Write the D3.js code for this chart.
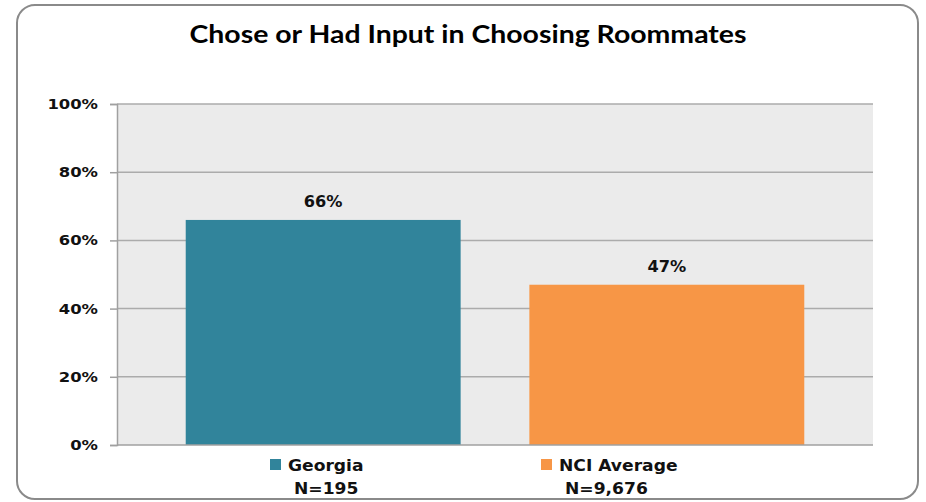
<!DOCTYPE html>
<meta charset="utf-8">
<script src="https://d3js.org/d3.v7.min.js"></script>
<style>
  body { margin: 0; background: #fff; }
</style>
<div id="chart"></div>
<script>
// data
const series = ["Georgia", "NCI Average"];
const values = [66, 47];
const sampleSizes = ["N=195", "N=9,676"];
const colors = ["#31849b", "#f79646"];
const yTicks = [0, 20, 40, 60, 80, 100];

const W = 926, H = 502;
const margin = {top: 104, right: 53, bottom: 57, left: 117};
const width = W - margin.left - margin.right,
      height = H - margin.top - margin.bottom;

// widen text a bit, the original was stretched sideways
function stretch(sel, k) {
  sel.each(function() {
    const len = this.getComputedTextLength();
    d3.select(this).attr("textLength", len * k).attr("lengthAdjust", "spacingAndGlyphs");
  });
}

const svg = d3.select("#chart").append("svg")
    .attr("width", W).attr("height", H);

// outer rounded frame
svg.append("rect")
    .attr("x", 17).attr("y", 5)
    .attr("width", 901).attr("height", 494)
    .attr("rx", 18)
    .attr("fill", "#fff")
    .attr("stroke", "#8a8a8a")
    .attr("stroke-width", 2);

svg.append("text")
    .attr("x", 468).attr("y", 43)
    .attr("text-anchor", "middle")
    .style("font-family", "Lato, sans-serif")
    .style("font-weight", "bold")
    .style("font-size", "24px")
    .attr("fill", "#000")
    .attr("textLength", 557)
    .attr("lengthAdjust", "spacingAndGlyphs")
    .text("Chose or Had Input in Choosing Roommates");

const g = svg.append("g").attr("transform", `translate(${margin.left},${margin.top})`);

const x = d3.scaleBand().domain(series).range([0, width]).paddingInner(0.2).paddingOuter(0.2);
const y = d3.scaleLinear().domain([0, 100]).range([height, 0]);

g.append("rect").attr("width", width).attr("height", height).attr("fill", "#ebebeb");

// gridlines
g.append("g")
  .selectAll("line").data(yTicks.filter(d => d > 0)).join("line")
    .attr("x1", 0).attr("x2", width)
    .attr("y1", d => y(d)).attr("y2", d => y(d))
    .attr("stroke", "#ababab").attr("stroke-width", 1.5);

// y axis
const yAxis = g.append("g")
    .call(d3.axisLeft(y).tickValues(yTicks).tickFormat(d => d + "%").tickSize(7).tickPadding(12));
yAxis.select(".domain").attr("stroke", "#a0a0a0").attr("stroke-width", 1.5);
yAxis.selectAll(".tick line").attr("stroke", "#a0a0a0").attr("stroke-width", 1.5);
yAxis.selectAll(".tick text")
    .style("font-family", "DejaVu Sans, Verdana, sans-serif")
    .style("font-weight", "bold")
    .style("font-size", "14px")
    .attr("fill", "#111")
    .call(stretch, 1.17);

// bars
g.selectAll(".bar").data(values).join("rect")
    .attr("x", (d, i) => x(series[i]))
    .attr("y", d => y(d))
    .attr("width", x.bandwidth())
    .attr("height", d => height - y(d))
    .attr("fill", (d, i) => colors[i]);

// value labels
g.selectAll(".lbl").data(values).join("text")
    .attr("x", (d, i) => x(series[i]) + x.bandwidth() / 2)
    .attr("y", d => y(d) - 13)
    .attr("text-anchor", "middle")
    .style("font-family", "DejaVu Sans, Verdana, sans-serif")
    .style("font-weight", "bold")
    .style("font-size", "15px")
    .attr("fill", "#111")
    .text(d => d + "%")
    .call(stretch, 1.08);

// bottom axis line
g.append("line")
    .attr("x1", 0).attr("x2", width)
    .attr("y1", height).attr("y2", height)
    .attr("stroke", "#a0a0a0").attr("stroke-width", 1.5);

// legend
const legendX = [270, 541];
const leg = svg.append("g");
series.forEach((s, i) => {
  const lg = leg.append("g").attr("transform", `translate(${legendX[i]},0)`);
  lg.append("rect").attr("x", 0).attr("y", 459).attr("width", 11).attr("height", 11).attr("fill", colors[i]);
  lg.append("text").attr("x", 18).attr("y", 471)
    .style("font-family", "DejaVu Sans, Verdana, sans-serif")
    .style("font-weight", "bold").style("font-size", "16px")
    .attr("fill", "#111").text(s)
    .call(stretch, 1.07);
  lg.append("text").attr("x", 24).attr("y", 494)
    .style("font-family", "DejaVu Sans, Verdana, sans-serif")
    .style("font-weight", "bold").style("font-size", "16px")
    .attr("fill", "#111").text(sampleSizes[i])
    .call(stretch, 1.07);
});
</script>
